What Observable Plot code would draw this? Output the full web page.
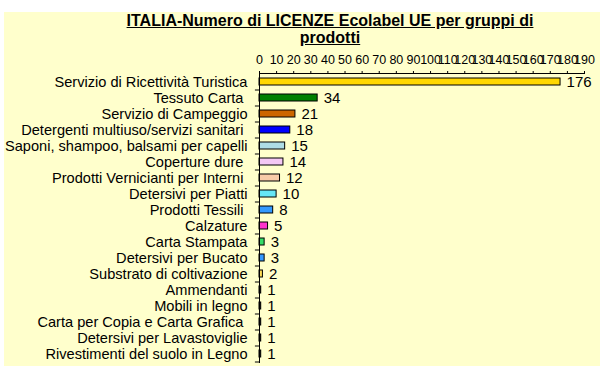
<!DOCTYPE html>
<html><head><meta charset="utf-8">
<script src="https://cdn.jsdelivr.net/npm/d3@7"></script>
<script src="https://cdn.jsdelivr.net/npm/@observablehq/plot@0.6"></script>
<style>
body{margin:0;background:#fff;}
#wrap{position:relative;width:600px;height:366px;overflow:hidden;}
#bg{position:absolute;left:4px;top:12px;right:0;bottom:0;background:#FFFFCC;}
#title{position:absolute;left:110px;width:440px;top:12px;text-align:center;font:bold 16px "Liberation Sans",Arial,sans-serif;text-decoration:underline;line-height:17px;color:#000;}
#chart{position:absolute;left:0;top:44px;}
#chart svg text{white-space:pre;}
</style>
</head><body>
<div id="wrap"><div id="bg"></div>
<div id="title">ITALIA-Numero di LICENZE Ecolabel UE per gruppi di prodotti</div>
<div id="chart"></div></div>
<script>
const categories = [
  "Servizio di Ricettività Turistica",
  "Tessuto Carta ",
  "Servizio di Campeggio",
  "Detergenti multiuso/servizi sanitari ",
  "Saponi, shampoo, balsami per capelli",
  "Coperture dure ",
  "Prodotti Vernicianti per Interni ",
  "Detersivi per Piatti",
  "Prodotti Tessili ",
  "Calzature",
  "Carta Stampata",
  "Detersivi per Bucato",
  "Substrato di coltivazione",
  "Ammendanti",
  "Mobili in legno",
  "Carta per Copia e Carta Grafica ",
  "Detersivi per Lavastoviglie",
  "Rivestimenti del suolo in Legno"
];
const values = [176, 34, 21, 18, 15, 14, 12, 10, 8, 5, 3, 3, 2, 1, 1, 1, 1, 1];
const barColors = ["#FFD700","#008000","#CC6600","#0000FF","#AEDCE6","#F4C8F4","#F8CBA8","#66E6F6","#3399FF","#FF33CC","#33DD66","#3399FF","#FFDD55","#000000","#000000","#000000","#000000","#000000"];
const xTickValues = [0,10,20,30,40,50,60,70,80,90,100,110,120,130,140,150,160,170,180,190];

const data = categories.map((c, i) => ({cat: c, value: values[i], color: barColors[i]}));
const font = '"Liberation Sans",Arial,sans-serif';

const chart = Plot.plot({
  width: 600, height: 322,
  marginLeft: 259, marginRight: 16, marginTop: 29, marginBottom: 4,
  style: {background: "transparent", fontFamily: font, fontSize: "13px", color: "#000", overflow: "visible"},
  x: {domain: [0, 190]},
  y: {domain: categories, paddingInner: 0.55, paddingOuter: 0.27},
  color: {type: "identity"},
  marks: [
    Plot.axisX({anchor: "top", ticks: xTickValues, tickSize: 3, tickPadding: 7, fontSize: 12.5, label: null, fill: "#000"}),
    Plot.axisY({anchor: "left", tickSize: 0, tickPadding: 12, fontSize: 14.6, label: null, fill: "#000"}),
    Plot.ruleY(categories, {y: d => d, dy: 8, x1: -2.4, x2: 0, stroke: "#000"}),
    Plot.barX(data, {x: "value", y: "cat", fill: "color", stroke: "#000", strokeWidth: 1}),
    Plot.text(data, {x: "value", y: "cat", text: "value", dx: 6, textAnchor: "start", fontSize: 15, fill: "#000"}),
    Plot.frame({anchor: "top", stroke: "#000"}),
    Plot.frame({anchor: "left", stroke: "#000"})
  ]
});
document.getElementById("chart").appendChild(chart);
</script>
</body></html>
